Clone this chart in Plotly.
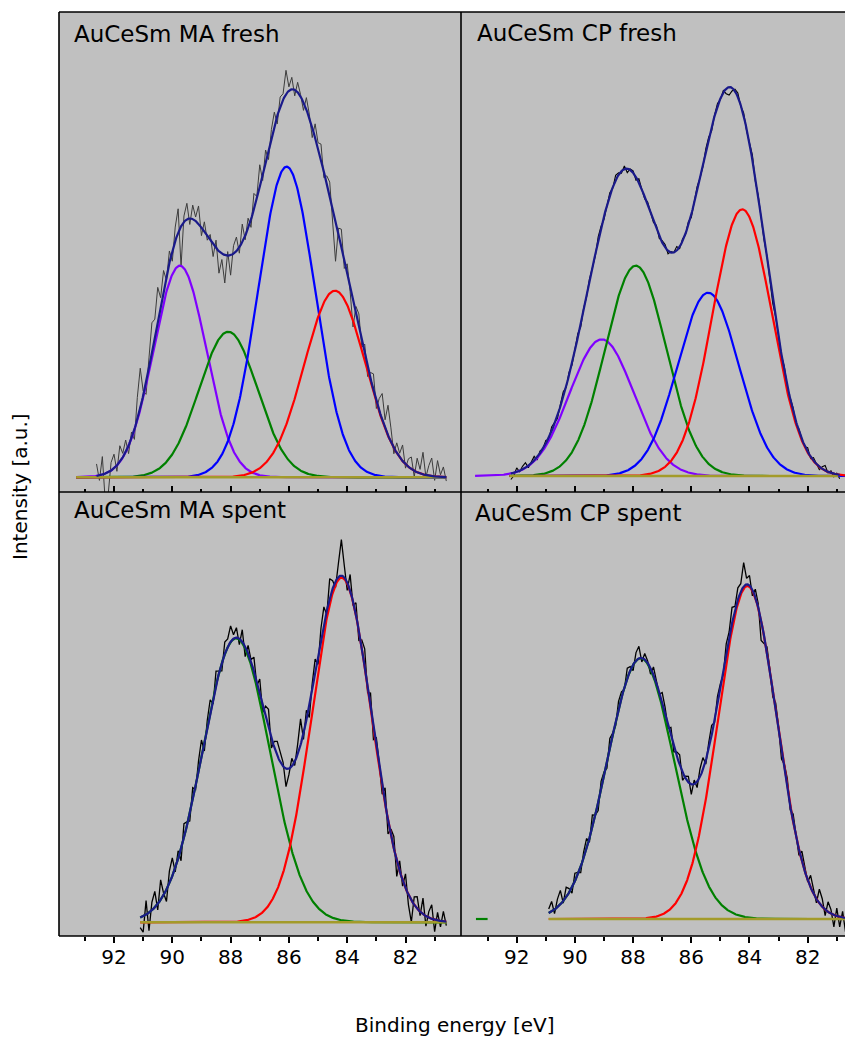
import numpy as np
import plotly.graph_objects as go

# The page body has an 8 px margin, so the figure is 8 px smaller and all
# pixel positions below are given relative to the screenshot.
OFF = 8
W, H = 853 - OFF, 1046 - OFF

# ---------------- data (intensity in a.u., baseline = 0) ----------------
PANEL_TITLES = ["AuCeSm MA fresh", "AuCeSm CP fresh", "AuCeSm MA spent", "AuCeSm CP spent"]
TICK_VALUES = [92, 90, 88, 86, 84, 82]
MINOR_TICK_VALUES = [93, 91, 89, 87, 85, 83, 81]

# fitted components: centre [eV], height, sigma [eV], drawn energy range [eV]
MA_FRESH_CENTERS = [89.74, 88.08, 86.08, 84.42]
MA_FRESH_HEIGHTS = [211.6, 145.6, 310.6, 186.6]
MA_FRESH_SIGMAS = [0.90, 1.00, 0.97, 1.05]
MA_FRESH_COLORS = ["#8000ff", "#008000", "#0000ff", "#ff0000"]
MA_FRESH_SPANS = [(93.3, 80.6), (93.3, 80.6), (93.3, 80.6), (93.3, 80.6)]

CP_FRESH_CENTERS = [89.08, 87.91, 85.42, 84.25]
CP_FRESH_HEIGHTS = [136.7, 210.3, 183.3, 266.7]
CP_FRESH_SIGMAS = [1.10, 1.05, 1.05, 1.02]
CP_FRESH_COLORS = ["#8000ff", "#008000", "#0000ff", "#ff0000"]
CP_FRESH_SPANS = [(93.43, 81.0), (92.25, 81.0), (92.25, 80.44), (92.25, 80.7)]

MA_SPENT_CENTERS = [87.81, 84.19]
MA_SPENT_HEIGHTS = [284.0, 344.6]
MA_SPENT_SIGMAS = [1.15, 1.02]
MA_SPENT_COLORS = ["#008000", "#ff0000"]
MA_SPENT_SPANS = [(91.1, 80.6), (91.1, 80.6)]

CP_SPENT_CENTERS = [87.74, 84.07]
CP_SPENT_HEIGHTS = [260.7, 333.0]
CP_SPENT_SIGMAS = [1.15, 1.00]
CP_SPENT_COLORS = ["#008000", "#ff0000"]
CP_SPENT_SPANS = [(90.9, 80.44), (90.9, 80.44)]

# measured-spectrum ranges [eV] and deviation of the measured points from the fit
MA_FRESH_RANGE = (92.6, 80.6)
MA_FRESH_RESID = [12, -5, 18, -28, -22, 8, 14, -6, 16, 4,
                  12, -8, 6, -10, 22, 40, 5, -12, 10, 30,
                  18, 34, 8, 20, -4, 12, -10, 14, 24, -40,
                  6, 16, -6, 14, 4, 18, -8, 10, -4, 6,
                  -12, 8, -22, -6, -28, 4, -20, 8, 14, -6,
                  18, -4, 10, -8, 16, 2, 22, -6, 12, -10,
                  8, 14, -8, 10, 6, 24, 4, 12, -6, 10,
                  2, -8, 12, 4, -10, 14, 6, 16, -6, 8,
                  14, -12, -40, 6, 18, -8, 10, -4, -26, 8,
                  14, -6, 10, -10, 6, 16, -8, 12, 26, 8,
                  30, 14, -6, 10, 4, 16, -4, 8, 12, -6,
                  14, 4, 22, -2, 10, 18, -4, 16, 2, 10, -4]

CP_FRESH_RANGE = (92.2, 80.9)
CP_FRESH_RESID = [-6, -3, 4, -1, 3, 5, -2, 1, 4, -3,
                  2, 0, 3, -2, 4, 1, -3, 2, 5, -1,
                  3, -2, 1, 4, -3, 2, -1, 3, 0, -2,
                  4, 2, -3, 1, 3, -1, 5, 2, -2, 3,
                  -4, 1, 2, -3, 4, 0, -2, 3, 1, -1,
                  4, -2, 2, 3, -3, 1, 0, 4, -2, 2,
                  -1, 3, -3, 1, 4, 0, -2, 3, 2, -4,
                  1, 3, -1, 2, -5, -8, -3, 2, 4, -1,
                  3, -2, 1, 5, -3, 2, 0, -2, 3, 1,
                  -4, 2, 3, -1, 4, -2, 1, 3, -3, 2,
                  0, -1, 4, -2, 3, 1, -3, 2, 5, -1,
                  2, -3, 1, -4]

MA_SPENT_RANGE = (91.1, 80.6)
MA_SPENT_RESID = [-10, -16, 14, -18, 8, 16, -6, 20, 2, -12,
                  12, 18, -4, 8, -12, 14, 4, -8, 12, -4,
                  10, 16, -10, 6, 12, -6, 14, 2, -8, 12,
                  8, 16, 4, 10, -6, 12, -10, 8, 2, 14,
                  -4, 14, -8, 10, 18, -10, 6, 14, 10, 4,
                  -18, -6, 8, -4, 10, 26, -6, 10, -12, 6,
                  14, -8, 12, 18, -4, 20, 8, -6, 14, 36,
                  12, -8, 16, -4, 12, -10, 8, 18, -6, 14,
                  -12, 10, 4, -8, 16, -14, 6, 12, -16, 10,
                  -6, 14, -10, -22, 8, 12, -4, 16, -10, 6,
                  14, -12, 8, -6, 10, -4]

CP_SPENT_RANGE = (90.9, 80.5)
CP_SPENT_RESID = [4, 10, -4, 8, 14, -2, 10, 4, -6, 8,
                  2, -6, 6, 10, -4, 12, 0, -8, 8, 4,
                  -6, 10, 2, -4, 8, 6, -2, 10, 4, -6,
                  8, 12, -4, 6, 2, -6, 8, 4, -2, 10,
                  6, -4, 8, -6, 4, 10, -8, 2, 6, -10,
                  4, -6, 8, 12, -4, 6, 10, -2, 8, 4,
                  -4, 10, 6, 16, 4, 12, 8, 24, 6, 10,
                  -6, 8, 4, -20, -8, 6, 2, -6, 8, 4,
                  -8, 6, 10, -4, 8, 2, -6, 10, 4, -2,
                  12, 6, -4, 14, 8, -6, 10, 4, -12, 8,
                  -10, 6, -14, 4, -6]

# baseline ranges [eV]
BASE_RANGES = [(93.3, 80.6), (92.25, 80.95), (91.1, 80.6), (90.9, 80.44)]

# ---------------- layout geometry (pixels in the screenshot) ----------------
X_LEFT, X_MID, X_RIGHT = 59, 461, 853
Y_TOP, Y_MID, Y_BOT = 12, 492, 936
X_RANGES = [(93.887, 80.096), (93.914, 80.443), (93.887, 80.096), (93.914, 80.443)]
Y_RANGES = [(-14.7, 465.3), (-16, 464), (-13.7, 430.3), (-17, 427)]

FONT = "DejaVu Sans"
BG = "#c0c0c0"
ENV_COLOR = "#1a1a8a"
BASE_COLOR = "#a39b2a"


def gauss(x, c, h, s):
    return h * np.exp(-((x - c) ** 2) / (2 * s * s))


def fit_sum(x, centers, heights, sigmas):
    y = np.zeros_like(x)
    for c, h, s in zip(centers, heights, sigmas):
        y = y + gauss(x, c, h, s)
    return y


panels = [
    (MA_FRESH_CENTERS, MA_FRESH_HEIGHTS, MA_FRESH_SIGMAS, MA_FRESH_COLORS, MA_FRESH_SPANS,
     MA_FRESH_RANGE, MA_FRESH_RESID, "#3c3c3c", 1.0),
    (CP_FRESH_CENTERS, CP_FRESH_HEIGHTS, CP_FRESH_SIGMAS, CP_FRESH_COLORS, CP_FRESH_SPANS,
     CP_FRESH_RANGE, CP_FRESH_RESID, "#000000", 1.1),
    (MA_SPENT_CENTERS, MA_SPENT_HEIGHTS, MA_SPENT_SIGMAS, MA_SPENT_COLORS, MA_SPENT_SPANS,
     MA_SPENT_RANGE, MA_SPENT_RESID, "#000000", 1.3),
    (CP_SPENT_CENTERS, CP_SPENT_HEIGHTS, CP_SPENT_SIGMAS, CP_SPENT_COLORS, CP_SPENT_SPANS,
     CP_SPENT_RANGE, CP_SPENT_RESID, "#000000", 1.3),
]

fig = go.Figure()

for i, (cen, hei, sig, cols, spans, drange, resid, dcol, dw) in enumerate(panels):
    ax = "" if i == 0 else str(i + 1)
    xa, ya = "x" + ax, "y" + ax
    # measured spectrum
    e = np.linspace(drange[0], drange[1], len(resid))
    meas = fit_sum(e, cen, hei, sig) + np.array(resid, dtype=float)
    fig.add_trace(go.Scatter(x=e, y=meas, mode="lines", line=dict(color=dcol, width=dw),
                             xaxis=xa, yaxis=ya, showlegend=False, hoverinfo="skip"))
    # components
    for c, h, s, col, sp in zip(cen, hei, sig, cols, spans):
        ce = np.linspace(sp[0], sp[1], 700)
        fig.add_trace(go.Scatter(x=ce, y=gauss(ce, c, h, s), mode="lines",
                                 line=dict(color=col, width=2.2),
                                 xaxis=xa, yaxis=ya, showlegend=False, hoverinfo="skip"))
    # baseline (drawn over the component tails)
    fig.add_trace(go.Scatter(x=list(BASE_RANGES[i]), y=[0, 0], mode="lines",
                             line=dict(color=BASE_COLOR, width=2.4),
                             xaxis=xa, yaxis=ya, showlegend=False, hoverinfo="skip"))
    # envelope
    fe = np.linspace(drange[0], drange[1], 600)
    fig.add_trace(go.Scatter(x=fe, y=fit_sum(fe, cen, hei, sig), mode="lines",
                             line=dict(color=ENV_COLOR, width=2.2),
                             xaxis=xa, yaxis=ya, showlegend=False, hoverinfo="skip"))

# small green stub at baseline in CP spent panel
fig.add_trace(go.Scatter(x=[93.4, 93.0], y=[0, 0], mode="lines", line=dict(color="#008000", width=2.2),
                         xaxis="x4", yaxis="y4", showlegend=False, hoverinfo="skip"))


def px(x):
    return (x - OFF) / W


def py(y):
    return 1 - (y - OFF) / H


x_domains = [(px(X_LEFT), px(X_MID)), (px(X_MID), 1.0), (px(X_LEFT), px(X_MID)), (px(X_MID), 1.0)]
y_domains = [(py(Y_MID), py(Y_TOP)), (py(Y_MID), py(Y_TOP)), (py(Y_BOT), py(Y_MID)), (py(Y_BOT), py(Y_MID))]

layout = dict(
    width=W, height=H,
    margin=dict(l=0, r=0, t=0, b=0),
    paper_bgcolor="white", plot_bgcolor=BG,
    font=dict(family=FONT, color="black"),
    showlegend=False,
)
for i in range(4):
    ax = "" if i == 0 else str(i + 1)
    top = i < 2
    layout["xaxis" + ax] = dict(
        domain=list(x_domains[i]), range=list(X_RANGES[i]), anchor="y" + ax,
        tickmode="array", tickvals=TICK_VALUES, ticktext=[str(v) for v in TICK_VALUES],
        ticks="inside" if top else "outside", ticklen=6, tickwidth=1.5, tickcolor="black",
        showticklabels=not top, tickfont=dict(family=FONT, size=20, color="black"),
        ticklabelstandoff=-3,
        minor=dict(tickmode="array", tickvals=MINOR_TICK_VALUES,
                   ticks="inside" if top else "outside", ticklen=3.5, tickwidth=1.5, tickcolor="black"),
        showgrid=False, zeroline=False, showline=False, fixedrange=True,
    )
    layout["yaxis" + ax] = dict(
        domain=list(y_domains[i]), range=list(Y_RANGES[i]), anchor="x" + ax,
        showticklabels=False, ticks="", showgrid=False, zeroline=False, showline=False, fixedrange=True,
    )

shapes = []
lw = 1.6
for yy in (Y_TOP, Y_MID, Y_BOT):
    shapes.append(dict(type="line", xref="paper", yref="paper", x0=px(X_LEFT), x1=1.0,
                       y0=py(yy), y1=py(yy), line=dict(color="black", width=lw)))
for xx in (X_LEFT, X_MID):
    shapes.append(dict(type="line", xref="paper", yref="paper", x0=px(xx), x1=px(xx),
                       y0=py(Y_TOP), y1=py(Y_BOT), line=dict(color="black", width=lw)))
layout["shapes"] = shapes

title_pos = [(72, 34), (475, 33), (72, 510), (473, 513)]
annotations = []
for t, (tx, ty) in zip(PANEL_TITLES, title_pos):
    annotations.append(dict(text=t, x=px(tx), y=py(ty), xref="paper", yref="paper",
                            xanchor="left", yanchor="middle", showarrow=False,
                            font=dict(family=FONT, size=23, color="black")))
annotations.append(dict(text="Binding energy [eV]", x=px(455), y=py(1025), xref="paper", yref="paper",
                        xanchor="center", yanchor="middle", showarrow=False,
                        font=dict(family=FONT, size=20, color="black")))
annotations.append(dict(text="Intensity [a.u.]", x=px(20), y=py(487), xref="paper", yref="paper",
                        xanchor="center", yanchor="middle", showarrow=False, textangle=-90,
                        font=dict(family=FONT, size=20, color="black")))
layout["annotations"] = annotations

fig.update_layout(**layout)
fig.write_html("out.html")
